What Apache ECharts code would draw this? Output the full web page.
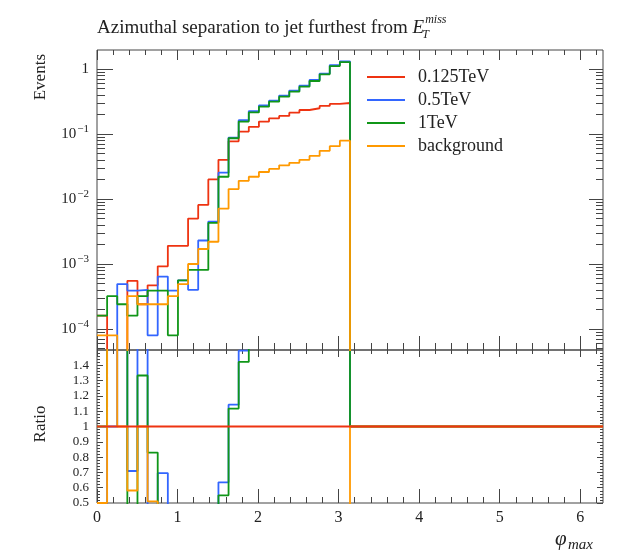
<!DOCTYPE html>
<html>
<head>
<meta charset="utf-8">
<script src="https://cdn.jsdelivr.net/npm/echarts@6.0.0/dist/echarts.min.js"></script>
<style>
html,body{margin:0;padding:0;background:#fff;}
#chart{width:628px;height:551px;}
</style>
</head>
<body>
<div id="chart"></div>
<script>
// ---------------- data ----------------
const binCount = 50;               // bins spanning [0, 2*pi]
const xLow = 0;
const xHigh = 2 * Math.PI;
const seriesNames = ['0.125TeV', '0.5TeV', '1TeV', 'background'];
const seriesColors = ['#EE3311', '#3366FF', '#109618', '#FF9900'];
// first 25 bins (0 .. pi)
const events125 = [1.6e-4, 0, 0, 5.5e-4, 2.4e-4, 4.7e-4, 9.2e-4, 1.9e-3, 1.9e-3, 5.0e-3, 8.1e-3, 0.020, 0.040, 0.077, 0.109, 0.129, 0.155, 0.174, 0.190, 0.213, 0.234, 0.249, 0.270, 0.290, 0.300];
const events05  = [0, 0, 4.9e-4, 3.9e-4, 4.0e-4, 8.0e-5, 6.4e-4, 3.9e-4, 5.6e-4, 4.0e-4, 2.3e-3, 4.5e-3, 0.0254, 0.088, 0.163, 0.225, 0.275, 0.325, 0.390, 0.465, 0.555, 0.680, 0.850, 1.150, 1.310];
const events1   = [1.6e-4, 3.2e-4, 2.4e-4, 1.6e-4, 3.2e-4, 3.9e-4, 3.9e-4, 8.0e-5, 5.6e-4, 8.1e-4, 8.1e-4, 4.3e-3, 0.022, 0.086, 0.155, 0.215, 0.263, 0.314, 0.375, 0.448, 0.534, 0.654, 0.828, 1.110, 1.280];
const eventsBkg = [8.0e-5, 8.0e-5, 0, 3.2e-4, 2.4e-4, 2.4e-4, 2.4e-4, 3.2e-4, 4.9e-4, 1.0e-3, 1.7e-3, 2.2e-3, 7.1e-3, 0.0142, 0.019, 0.022, 0.026, 0.029, 0.033, 0.036, 0.040, 0.046, 0.055, 0.065, 0.079];
// remaining 25 bins (pi .. 2pi) are empty
const emptyBins = [0,0,0,0,0,0,0,0,0,0,0,0,0,0,0,0,0,0,0,0,0,0,0,0,0];

const xTickValues = [0, 1, 2, 3, 4, 5, 6];
const xTickLabels = ['0', '1', '2', '3', '4', '5', '6'];
const yDecadeExponents = [-4, -3, -2, -1, 0];
const yDecadeLabels = ['10^−4', '10^−3', '10^−2', '10^−1', '1'];
const ratioTickValues = [0.5, 0.6, 0.7, 0.8, 0.9, 1.0, 1.1, 1.2, 1.3, 1.4];
const ratioTickLabels = ['0.5', '0.6', '0.7', '0.8', '0.9', '1', '1.1', '1.2', '1.3', '1.4'];
const yMin = 4.75e-5, yMax = 1.96;
const ratioMin = 0.5, ratioMax = 1.5;

// ---------------- building ----------------
const FONT = '"Liberation Serif", "DejaVu Serif", serif';
const INK = '#222';
const FRAME = '#444';
const allSeries = [events125, events05, events1, eventsBkg].map(a => a.concat(emptyBins));
const ref = allSeries[0];
const edges = [];
for (let k = 0; k <= binCount; k++) edges.push(xLow + k * (xHigh - xLow) / binCount);

function stepPoints(values, floor) {
  const pts = values.map((v, k) => [edges[k], v > 0 ? v : floor]);
  pts.push([edges[binCount], values[values.length - 1] > 0 ? values[values.length - 1] : floor]);
  return pts;
}
function ratioValues(values) {
  return values.map((v, k) => ref[k] > 0 ? v / ref[k] : (v > 0 ? 1e3 : 1));
}

const L = 97, R = 25, TOP = 50, MAIN_H = 300, RAT_TOP = 350, RAT_H = 153;
const lyMin = Math.log10(yMin), lyMax = Math.log10(yMax);

const xMinor = [];
for (let i = 1; i < 32; i++) { const v = Math.round(i * 2) / 10; if (Math.abs(v - Math.round(v)) > 1e-9 && v < xHigh) xMinor.push(v); }
const yMinorLog = [];
for (let d = -5; d <= 0; d++) for (let m = 2; m <= 9; m++) { const lv = Math.log10(m) + d; if (lv > lyMin && lv < lyMax) yMinorLog.push(lv); }
const ratioMinor = [];
for (let i = 25; i <= 75; i++) { const v = i / 50; if (i % 5 !== 0) ratioMinor.push(v); }

function hiddenAxis(extra) {
  return Object.assign({
    axisLine: { show: false, onZero: false }, axisTick: { show: false },
    axisLabel: { show: false }, splitLine: { show: false }
  }, extra);
}
function tickAxis(gridIndex, position, min, max, values, len, label) {
  return {
    type: 'value', gridIndex, position, min, max,
    axisLine: { show: false, onZero: false }, splitLine: { show: false },
    axisTick: { show: true, inside: true, length: len, customValues: values, lineStyle: { color: FRAME, width: 1 } },
    axisLabel: label || { show: false }
  };
}

const xAxes = [
  hiddenAxis({ type: 'value', gridIndex: 0, min: xLow, max: xHigh, position: 'bottom' }),
  tickAxis(0, 'bottom', xLow, xHigh, xTickValues, 14),
  tickAxis(0, 'bottom', xLow, xHigh, xMinor, 7),
  tickAxis(0, 'top', xLow, xHigh, xTickValues, 10),
  tickAxis(0, 'top', xLow, xHigh, xMinor, 5),
  hiddenAxis({ type: 'value', gridIndex: 1, min: xLow, max: xHigh, position: 'bottom' }),
  tickAxis(1, 'bottom', xLow, xHigh, xTickValues, 14, {
    show: true, inside: false, margin: 7, customValues: xTickValues,
    formatter: v => xTickLabels[xTickValues.indexOf(Math.round(v))],
    color: INK, fontFamily: FONT, fontSize: 16
  }),
  tickAxis(1, 'bottom', xLow, xHigh, xMinor, 6),
  tickAxis(1, 'top', xLow, xHigh, xTickValues, 7),
  tickAxis(1, 'top', xLow, xHigh, xMinor, 4)
];

const yAxes = [
  hiddenAxis({ type: 'log', logBase: 10, gridIndex: 0, min: yMin, max: yMax }),
  tickAxis(0, 'left', lyMin, lyMax, yDecadeExponents, 16, {
    show: true, margin: 8, customValues: yDecadeExponents,
    formatter: v => {
      const s = yDecadeLabels[yDecadeExponents.indexOf(Math.round(v))];
      const p = s.split('^');
      return p.length > 1 ? '{b|' + p[0] + '}{s|' + p[1] + '}' : '{b|' + p[0] + '}';
    },
    rich: {
      b: { fontFamily: FONT, fontSize: 15, color: INK },
      s: { fontFamily: FONT, fontSize: 11, color: INK, verticalAlign: 'bottom', padding: [0, 0, 9, 1] }
    }
  }),
  tickAxis(0, 'left', lyMin, lyMax, yMinorLog, 8),
  tickAxis(0, 'right', lyMin, lyMax, yDecadeExponents, 14),
  tickAxis(0, 'right', lyMin, lyMax, yMinorLog, 7),
  hiddenAxis({ type: 'value', gridIndex: 1, min: ratioMin, max: ratioMax }),
  tickAxis(1, 'left', ratioMin, ratioMax, ratioTickValues, 6, {
    show: true, margin: 8, customValues: ratioTickValues,
    formatter: v => ratioTickLabels[ratioTickValues.findIndex(t => Math.abs(t - v) < 1e-6)],
    color: INK, fontFamily: FONT, fontSize: 13
  }),
  tickAxis(1, 'left', ratioMin, ratioMax, ratioMinor, 3),
  tickAxis(1, 'right', ratioMin, ratioMax, ratioTickValues, 6),
  tickAxis(1, 'right', ratioMin, ratioMax, ratioMinor, 3)
];

const series = [];
allSeries.forEach((vals, i) => {
  series.push({
    name: seriesNames[i], type: 'line', xAxisIndex: 0, yAxisIndex: 0,
    data: stepPoints(vals, 1e-12), step: 'end', showSymbol: false, symbol: 'none',
    clip: true, z: 2 + i, color: seriesColors[i],
    lineStyle: { color: seriesColors[i], width: 1.8 }, silent: true
  });
});
// ratio panel: reference (red) drawn last so it stays on top
[1, 2, 3, 0].forEach((i, j) => {
  series.push({
    name: seriesNames[i], type: 'line', xAxisIndex: 5, yAxisIndex: 5,
    data: stepPoints(ratioValues(allSeries[i]), -1), step: 'end', showSymbol: false, symbol: 'none',
    clip: true, z: 2 + j, color: seriesColors[i],
    lineStyle: { color: seriesColors[i], width: 1.8 }, silent: true
  });
});

// title pieces measured so E_T^miss follows the text
const titleText = 'Azimuthal separation to jet furthest from ';
const titleSize = 19;
const mctx = document.createElement('canvas').getContext('2d');
mctx.font = titleSize + 'px "Liberation Serif"';
const tW = mctx.measureText(titleText).width;
mctx.font = 'italic ' + titleSize + 'px "Liberation Serif"';
const eW = mctx.measureText('E').width;
const titleX = 97;

function txt(x, y, text, font, opts) {
  return Object.assign({
    type: 'text', x, y, silent: true,
    style: Object.assign({ text, font, fill: INK, align: 'left', textAlign: 'left', verticalAlign: 'middle', textVerticalAlign: 'middle' }, (opts && opts.style) || {})
  }, opts ? { rotation: opts.rotation || 0 } : {});
}

const graphics = [
  txt(titleX, 28, titleText, titleSize + 'px ' + FONT),
  txt(titleX + tW, 28, 'E', 'italic ' + titleSize + 'px ' + FONT),
  txt(titleX + tW + eW + 1, 20, 'miss', 'italic 12px ' + FONT),
  txt(titleX + tW + eW - 2, 35, 'T', 'italic 12px ' + FONT),
  txt(41, 54, 'Events', '17px ' + FONT, { rotation: Math.PI / 2, style: { align: 'right', textAlign: 'right' } }),
  txt(41, 424, 'Ratio', '17px ' + FONT, { rotation: Math.PI / 2, style: { align: 'center', textAlign: 'center' } }),
  txt(555, 539, 'φ', 'italic 21px ' + FONT),
  txt(568, 545, 'max', 'italic 15px ' + FONT)
];

const chart = echarts.init(document.getElementById('chart'), null, { renderer: 'canvas', width: 628, height: 551 });
chart.setOption({
  animation: false,
  backgroundColor: '#ffffff',
  grid: [
    { left: L, right: R, top: TOP, height: MAIN_H, show: true, borderColor: FRAME, borderWidth: 1, backgroundColor: 'transparent', containLabel: false },
    { left: L, right: R, top: RAT_TOP, height: RAT_H, show: true, borderColor: FRAME, borderWidth: 1, backgroundColor: 'transparent', containLabel: false }
  ],
  xAxis: xAxes,
  yAxis: yAxes,
  legend: {
    data: seriesNames, orient: 'vertical', left: 362, top: 63,
    icon: 'rect', itemWidth: 38, itemHeight: 2, itemGap: 5, selectedMode: false,
    textStyle: { fontFamily: FONT, fontSize: 18, color: INK, lineHeight: 18, padding: [0, 0, 0, 8] }
  },
  graphic: graphics,
  series
});
</script>
</body>
</html>
